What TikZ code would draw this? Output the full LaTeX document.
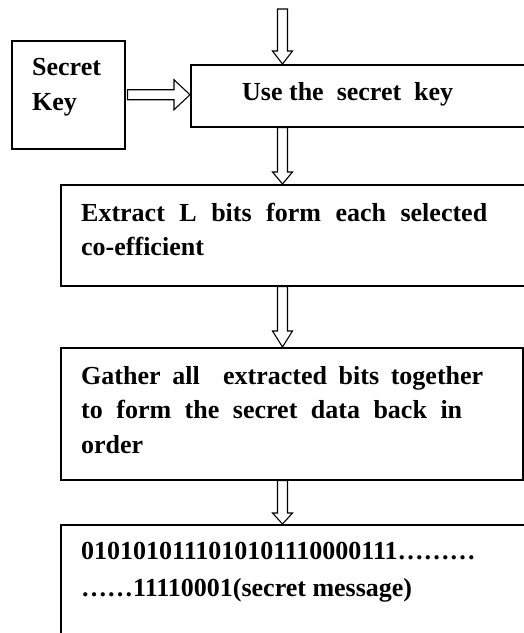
\documentclass[tikz,border=0pt]{standalone}
\usepackage{fontspec}
\setmainfont{Liberation Serif}
\usetikzlibrary{calc}

% hollow block arrows: pointing down and pointing right
\newcommand\hollowdown[3]{% start, tip, head length
  \draw[hollow] let \p1=(#1), \p2=(#2) in
    (\x1-5pt,\y1) -- (\x1-5pt,\y2+#3) -- (\x1-10pt,\y2+#3) -- (\x1,\y2)
    -- (\x1+10pt,\y2+#3) -- (\x1+5pt,\y2+#3) -- (\x1+5pt,\y1) -- cycle;}
\newcommand\hollowright[3]{% start, tip, head length
  \draw[hollow] let \p1=(#1), \p2=(#2) in
    (\x1,\y1+5pt) -- (\x2-#3,\y1+5pt) -- (\x2-#3,\y1+15pt) -- (\x2,\y1)
    -- (\x2-#3,\y1-15pt) -- (\x2-#3,\y1-5pt) -- (\x1,\y1-5pt) -- cycle;}

\tikzset{
  box/.style={draw, rectangle, line width=1.5pt, inner sep=0pt, anchor=north west},
  txt/.style={inner sep=0pt, anchor=base west, font=\bfseries\fontsize{26}{34}\selectfont},
  hollow/.style={draw, line width=1.1pt, line join=miter},
}

\begin{document}
\begin{tikzpicture}[x=1pt, y=-1pt]
  \useasboundingbox (0,0) rectangle (524,633);
  \clip (0,0) rectangle (524,633);

  % process boxes
  \node[box, minimum width=113pt, minimum height=108pt] (key) at (11,40) {};
  \node[box, minimum width=340pt, minimum height=62pt] (use) at (190,64) {};
  \node[box, minimum width=470pt, minimum height=101pt] (extract) at (60,184) {};
  \node[box, minimum width=462pt, minimum height=132pt] (gather) at (60,347) {};
  \node[box, minimum width=470pt, minimum height=130pt] (result) at (60,524) {};

  % box texts
  \node[txt] (keyA) at (32,75) {Secret};
  \node[txt] (keyB) at (32,110) {Key};
  \node[txt] (useT) at (242,100) {Use the\ \ secret\ \ key};
  \node[txt] (exA) at (81,221) {\makebox[406pt][s]{Extract L bits form each selected}};
  \node[txt] (exB) at (81,255) {co-efficient};
  \node[txt] (gaA) at (81,384) {\makebox[402pt][s]{Gather all\ \ extracted bits together}};
  \node[txt] (gaB) at (81,418) {\makebox[381pt][s]{to form the secret data back in}};
  \node[txt] (gaC) at (81,453) {order};
  \node[txt] (reA) at (81,559) {0101010111010101110000111………};
  \node[txt] (reB) at (81,596) {……11110001(secret message)};

  % flow arrows
  \coordinate (feed) at (282.5,9);
  \hollowdown{feed}{use.north -| feed}{13pt}
  \hollowright{$(key.east)+(2,0)$}{use.west}{16pt}
  \hollowdown{use.south -| feed}{extract.north -| feed}{12pt}
  \hollowdown{extract.south -| feed}{gather.north -| feed}{16pt}
  \hollowdown{gather.south -| feed}{result.north -| feed}{11pt}
\end{tikzpicture}
\end{document}
